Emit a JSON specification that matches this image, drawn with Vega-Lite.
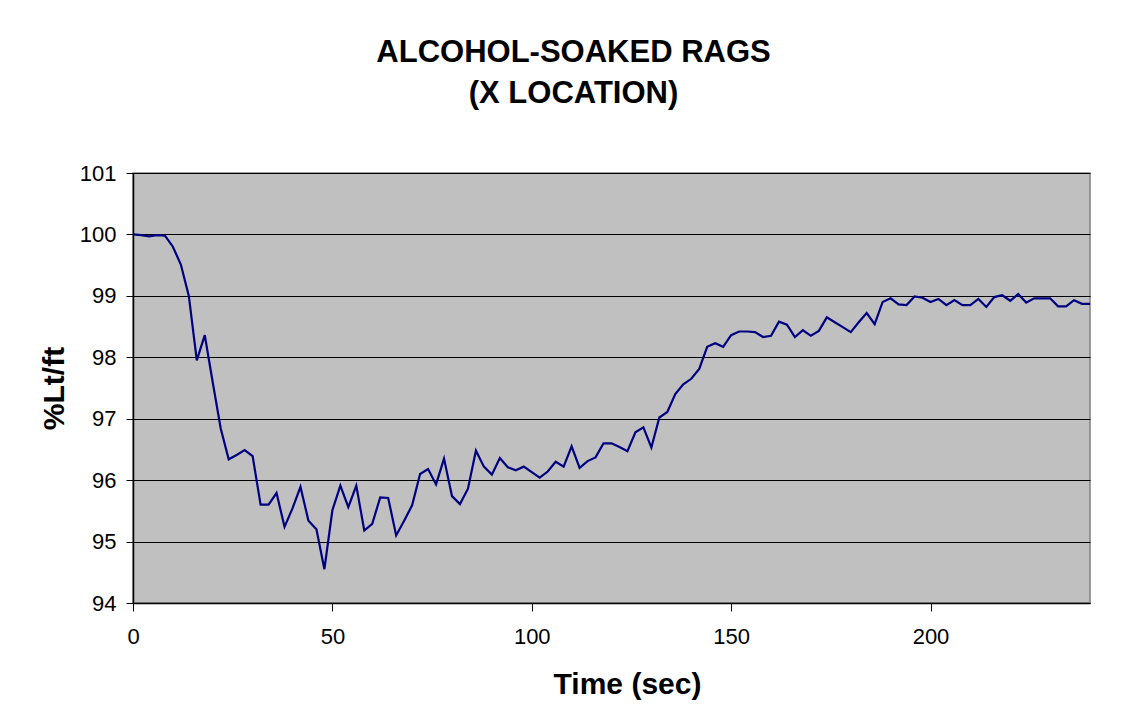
{
  "$schema": "https://vega.github.io/schema/vega-lite/v6.json",
  "width": 957,
  "height": 430,
  "autosize": {"type": "none"},
  "padding": {"left": 133, "top": 173, "right": 35, "bottom": 119},
  "background": "#ffffff",
  "title": {
    "text": ["ALCOHOL-SOAKED RAGS", "(X LOCATION)"],
    "font": "Liberation Sans",
    "fontSize": 31,
    "fontWeight": "bold",
    "color": "#000000",
    "anchor": "middle",
    "frame": "group",
    "baseline": "alphabetic",
    "lineHeight": 41,
    "offset": 28,
    "dx": -38
  },
  "config": {
    "view": {"fill": "#c0c0c0", "stroke": "#808080", "strokeWidth": 1.5},
    "font": "Liberation Sans"
  },
  "data": {
    "values": [
      {"t": 0, "v": 100.0}, {"t": 2, "v": 99.99}, {"t": 4, "v": 99.97}, {"t": 6, "v": 99.99},
      {"t": 8, "v": 99.98}, {"t": 10, "v": 99.80}, {"t": 12, "v": 99.51}, {"t": 14, "v": 99.00},
      {"t": 16, "v": 97.95}, {"t": 18, "v": 98.36}, {"t": 20, "v": 97.59}, {"t": 22, "v": 96.84},
      {"t": 24, "v": 96.34}, {"t": 26, "v": 96.41}, {"t": 28, "v": 96.49}, {"t": 30, "v": 96.39},
      {"t": 32, "v": 95.60}, {"t": 34, "v": 95.60}, {"t": 36, "v": 95.79}, {"t": 38, "v": 95.24},
      {"t": 40, "v": 95.54}, {"t": 42, "v": 95.89}, {"t": 44, "v": 95.34}, {"t": 46, "v": 95.20},
      {"t": 48, "v": 94.55}, {"t": 50, "v": 95.51}, {"t": 52, "v": 95.91}, {"t": 54, "v": 95.56},
      {"t": 56, "v": 95.91}, {"t": 58, "v": 95.18}, {"t": 60, "v": 95.29}, {"t": 62, "v": 95.72},
      {"t": 64, "v": 95.71}, {"t": 66, "v": 95.10}, {"t": 68, "v": 95.34}, {"t": 70, "v": 95.59},
      {"t": 72, "v": 96.10}, {"t": 74, "v": 96.18}, {"t": 76, "v": 95.93}, {"t": 78, "v": 96.35},
      {"t": 80, "v": 95.74}, {"t": 82, "v": 95.61}, {"t": 84, "v": 95.86}, {"t": 86, "v": 96.48},
      {"t": 88, "v": 96.22}, {"t": 90, "v": 96.09}, {"t": 92, "v": 96.36}, {"t": 94, "v": 96.21},
      {"t": 96, "v": 96.16}, {"t": 98, "v": 96.22}, {"t": 100, "v": 96.13}, {"t": 102, "v": 96.04},
      {"t": 104, "v": 96.14}, {"t": 106, "v": 96.30}, {"t": 108, "v": 96.22}, {"t": 110, "v": 96.55},
      {"t": 112, "v": 96.20}, {"t": 114, "v": 96.31}, {"t": 116, "v": 96.37}, {"t": 118, "v": 96.60},
      {"t": 120, "v": 96.60}, {"t": 122, "v": 96.54}, {"t": 124, "v": 96.47}, {"t": 126, "v": 96.78},
      {"t": 128, "v": 96.86}, {"t": 130, "v": 96.53}, {"t": 132, "v": 97.02}, {"t": 134, "v": 97.11},
      {"t": 136, "v": 97.40}, {"t": 138, "v": 97.56}, {"t": 140, "v": 97.65}, {"t": 142, "v": 97.81},
      {"t": 144, "v": 98.17}, {"t": 146, "v": 98.23}, {"t": 148, "v": 98.17}, {"t": 150, "v": 98.36},
      {"t": 152, "v": 98.42}, {"t": 154, "v": 98.42}, {"t": 156, "v": 98.41}, {"t": 158, "v": 98.33},
      {"t": 160, "v": 98.35}, {"t": 162, "v": 98.58}, {"t": 164, "v": 98.53}, {"t": 166, "v": 98.33},
      {"t": 168, "v": 98.44}, {"t": 170, "v": 98.35}, {"t": 172, "v": 98.43}, {"t": 174, "v": 98.65},
      {"t": 176, "v": 98.57}, {"t": 178, "v": 98.49}, {"t": 180, "v": 98.41}, {"t": 182, "v": 98.57},
      {"t": 184, "v": 98.72}, {"t": 186, "v": 98.54}, {"t": 188, "v": 98.90}, {"t": 190, "v": 98.96},
      {"t": 192, "v": 98.86}, {"t": 194, "v": 98.85}, {"t": 196, "v": 98.99}, {"t": 198, "v": 98.97},
      {"t": 200, "v": 98.90}, {"t": 202, "v": 98.95}, {"t": 204, "v": 98.85}, {"t": 206, "v": 98.93},
      {"t": 208, "v": 98.85}, {"t": 210, "v": 98.85}, {"t": 212, "v": 98.95}, {"t": 214, "v": 98.82},
      {"t": 216, "v": 98.98}, {"t": 218, "v": 99.01}, {"t": 220, "v": 98.92}, {"t": 222, "v": 99.03},
      {"t": 224, "v": 98.89}, {"t": 226, "v": 98.96}, {"t": 228, "v": 98.96}, {"t": 230, "v": 98.96},
      {"t": 232, "v": 98.83}, {"t": 234, "v": 98.83}, {"t": 236, "v": 98.93}, {"t": 238, "v": 98.87},
      {"t": 240, "v": 98.87}
    ]
  },
  "mark": {"type": "line", "color": "#000080", "strokeWidth": 2.2, "clip": true},
  "encoding": {
    "x": {
      "field": "t",
      "type": "quantitative",
      "scale": {"domain": [0, 240], "nice": false, "zero": false},
      "axis": {
        "title": "Time (sec)",
        "values": [0, 50, 100, 150, 200],
        "grid": false,
        "domainColor": "#000000",
        "domainWidth": 1.5,
        "tickColor": "#000000",
        "tickSize": 8,
        "tickWidth": 1,
        "labelFont": "Liberation Sans",
        "labelFontSize": 22,
        "labelColor": "#000000",
        "labelPadding": 15,
        "labelFlush": false,
        "titleFont": "Liberation Sans",
        "titleFontSize": 30,
        "titleFontWeight": "bold",
        "titleColor": "#000000",
        "titlePadding": 22,
        "titleX": 494
      }
    },
    "y": {
      "field": "v",
      "type": "quantitative",
      "scale": {"domain": [94, 101], "nice": false, "zero": false},
      "axis": {
        "title": "%Lt/ft",
        "values": [94, 95, 96, 97, 98, 99, 100, 101],
        "grid": true,
        "gridColor": "#000000",
        "gridWidth": 1,
        "domainColor": "#000000",
        "domainWidth": 1.5,
        "tickColor": "#000000",
        "tickSize": 7,
        "tickWidth": 1,
        "labelFont": "Liberation Sans",
        "labelFontSize": 22,
        "labelColor": "#000000",
        "labelPadding": 10,
        "labelFlush": false,
        "titleFont": "Liberation Sans",
        "titleFontSize": 30,
        "titleFontWeight": "bold",
        "titleColor": "#000000",
        "titlePadding": 10
      }
    }
  }
}
